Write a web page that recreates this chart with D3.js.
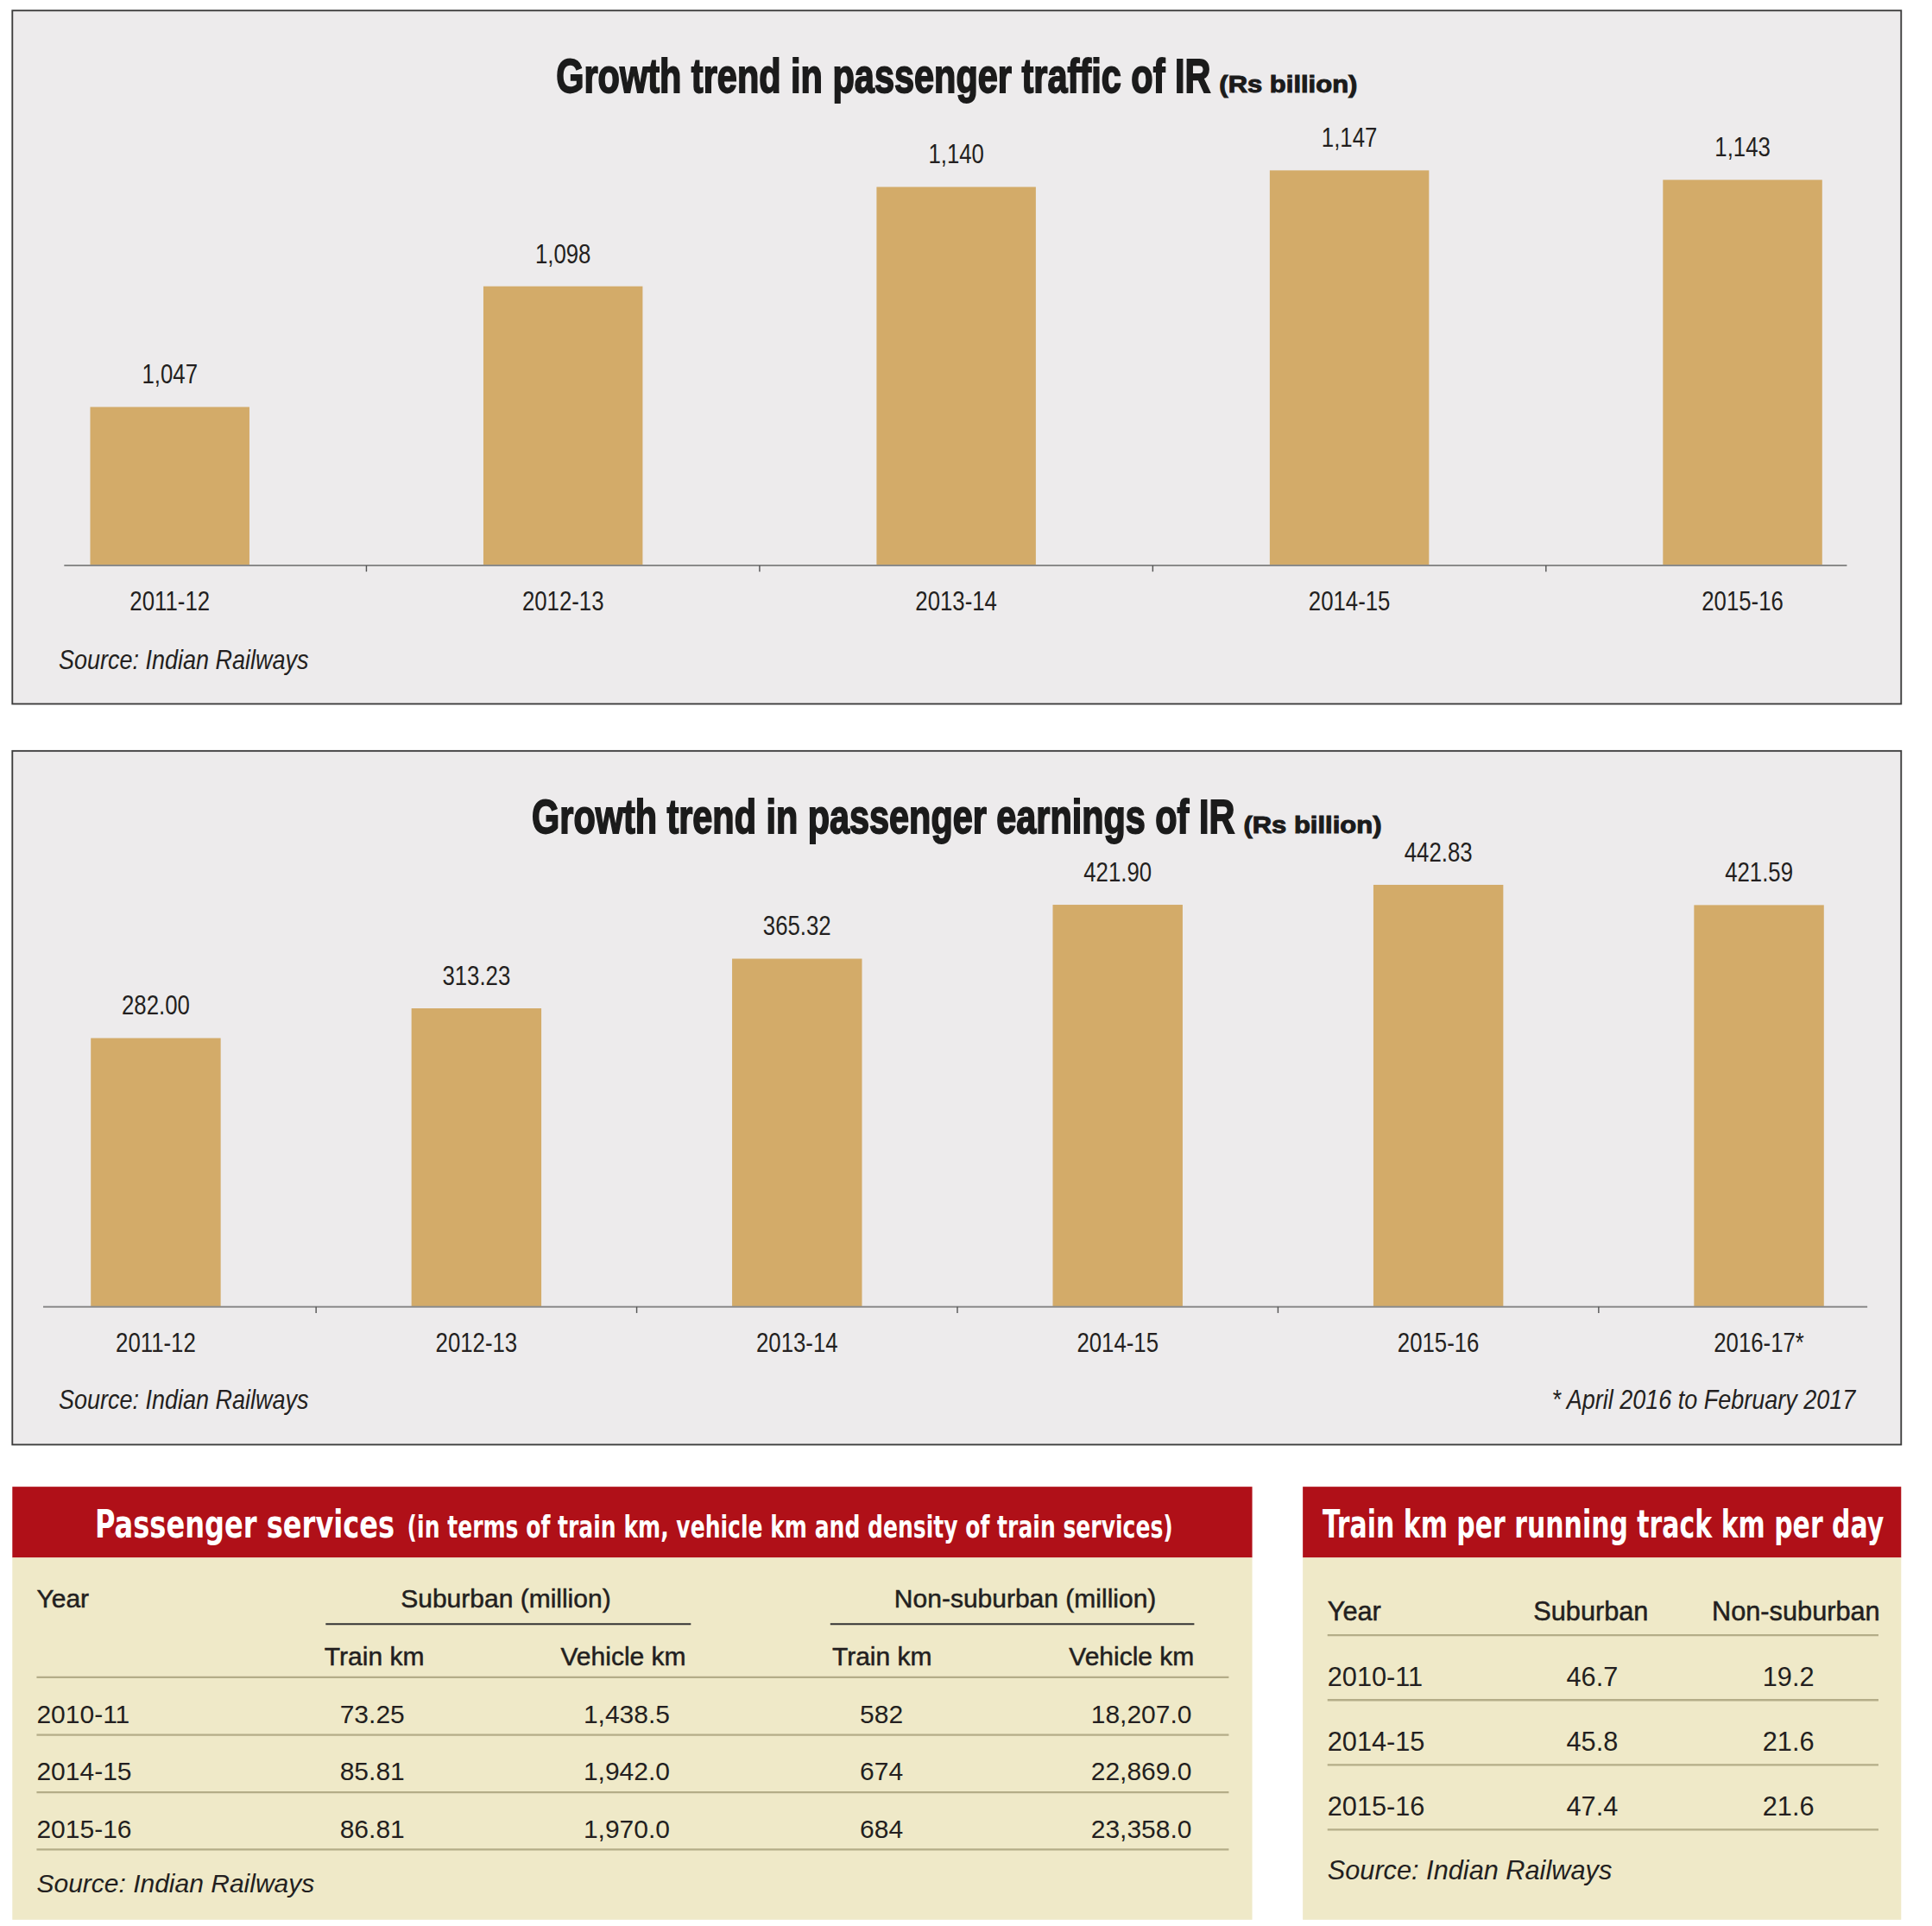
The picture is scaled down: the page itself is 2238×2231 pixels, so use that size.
<!DOCTYPE html>
<html>
<head>
<meta charset="utf-8">
<script src="https://cdn.jsdelivr.net/npm/d3@7"></script>
<style>
  html, body { margin: 0; padding: 0; background: #fff; }
  svg { display: block; }
</style>
</head>
<body>
<svg id="page"></svg>
<script>
// Growth trend in passenger traffic (Rs billion)
const trafficYears = ["2011-12", "2012-13", "2013-14", "2014-15", "2015-16"];
const trafficValues = [1047, 1098, 1140, 1147, 1143];

// Growth trend in passenger earnings (Rs billion)
const earningYears = ["2011-12", "2012-13", "2013-14", "2014-15", "2015-16", "2016-17*"];
const earningValues = [282.00, 313.23, 365.32, 421.90, 442.83, 421.59];

// Passenger services table
const serviceYears = ["2010-11", "2014-15", "2015-16"];
const subTrainKm = [73.25, 85.81, 86.81];
const subVehicleKm = [1438.5, 1942.0, 1970.0];
const nonSubTrainKm = [582, 674, 684];
const nonSubVehicleKm = [18207.0, 22869.0, 23358.0];

// Train km per running track km per day
const densityYears = ["2010-11", "2014-15", "2015-16"];
const subDensity = [46.7, 45.8, 47.4];
const nonSubDensity = [19.2, 21.6, 21.6];

const SANS = '"Liberation Sans", Arial, Helvetica, sans-serif';
const COND = '"DejaVu Sans Condensed", "DejaVu Sans", sans-serif';
const INK = '#231f20';

// page drawn in a 1566 x 1561 coordinate space, scaled to the window
const svg = d3.select('#page')
    .attr('width', 2238)
    .attr('height', 2231)
    .attr('viewBox', '0 0 1566 1561');

svg.append('rect').attr('width', 1566).attr('height', 1561).attr('fill', '#fff');

// squeeze text horizontally (factor k, or to an exact width) with a transform,
// so the glyphs look like a narrow cut and the box stays true
function squeeze(sel, k, width) {
    sel.each(function() {
        const t = d3.select(this);
        const w = this.getComputedTextLength();
        const s = width ? width / w : k;
        const x = +t.attr('x') || 0, y = +t.attr('y') || 0;
        t.attr('x', 0).attr('y', 0)
            .attr('transform', `translate(${x},${y}) scale(${s},1)`);
    });
    return sel;
}

class BarPanel {
    constructor(_config, _years, _values) {
        this.config = {
            top: _config.top,
            bottom: _config.bottom,
            title: _config.title,
            titleWidth: _config.titleWidth,
            titleBase: _config.titleBase,
            baseline: _config.baseline,
            yDomain: _config.yDomain,
            yTop: _config.yTop,
            bandRange: _config.bandRange,
            axisExtent: _config.axisExtent,
            labelBase: _config.labelBase,
            sourceBase: _config.sourceBase,
            format: _config.format,
            footnote: _config.footnote || null
        };
        this.years = _years;
        this.values = _values;

        this.initVis();
        this.renderVis();
    }

    initVis() {
        let vis = this;
        const c = vis.config;

        vis.g = svg.append('g');

        vis.g.append('rect')
            .attr('x', 10).attr('y', c.top)
            .attr('width', 1531).attr('height', c.bottom - c.top)
            .attr('fill', '#edebec')
            .attr('stroke', '#3d3d3d')
            .attr('stroke-width', 1.3);

        // title: heavy condensed main part plus smaller unit
        const gap = 7, unitWidth = 112;
        const start = 775.5 - (c.titleWidth + gap + unitWidth) / 2;
        vis.g.append('text')
            .attr('x', start).attr('y', c.titleBase)
            .attr('font-family', SANS)
            .attr('font-weight', 'bold')
            .attr('font-size', 39)
            .attr('fill', '#1b1b1b')
            .attr('stroke', '#1b1b1b')
            .attr('stroke-width', 1.3)
            .text(c.title)
            .call(squeeze, null, c.titleWidth);
        vis.g.append('text')
            .attr('x', start + c.titleWidth + gap).attr('y', c.titleBase)
            .attr('font-family', SANS)
            .attr('font-weight', 'bold')
            .attr('font-size', 19)
            .attr('fill', '#1b1b1b')
            .attr('stroke', '#1b1b1b')
            .attr('stroke-width', 0.7)
            .text('(Rs billion)')
            .call(squeeze, null, unitWidth);

        vis.xScale = d3.scaleBand()
            .domain(vis.years)
            .range(c.bandRange)
            .paddingInner(0.595)
            .paddingOuter(0.2975);

        vis.yScale = d3.scaleLinear()
            .domain(c.yDomain)
            .range([c.baseline, c.yTop]);

        vis.xAxis = d3.axisBottom(vis.xScale)
            .tickSize(0)
            .tickPadding(0);
    }

    renderVis() {
        let vis = this;
        const c = vis.config;
        const data = vis.years.map((y, i) => ({year: y, value: vis.values[i]}));

        vis.g.selectAll('.bar')
            .data(data)
            .join('rect')
            .attr('class', 'bar')
            .attr('x', d => vis.xScale(d.year))
            .attr('width', vis.xScale.bandwidth())
            .attr('y', d => vis.yScale(d.value))
            .attr('height', d => c.baseline - vis.yScale(d.value))
            .attr('fill', '#d3ab69');

        vis.g.selectAll('.value')
            .data(data)
            .join('text')
            .attr('class', 'value')
            .attr('x', d => vis.xScale(d.year) + vis.xScale.bandwidth() / 2)
            .attr('y', d => vis.yScale(d.value) - 19)
            .attr('text-anchor', 'middle')
            .attr('font-family', SANS)
            .attr('font-size', 22)
            .attr('fill', INK)
            .text(d => c.format(d.value))
            .call(squeeze, 0.82);

        // category labels
        const axisG = vis.g.append('g')
            .attr('transform', `translate(0,${c.baseline})`)
            .call(vis.xAxis);
        axisG.select('.domain').remove();
        axisG.selectAll('text')
            .attr('y', c.labelBase - c.baseline)
            .attr('dy', null)
            .attr('font-family', SANS)
            .attr('font-size', 22)
            .attr('fill', INK)
            .call(squeeze, 0.82);

        // baseline and separators between categories
        vis.g.append('line')
            .attr('x1', c.axisExtent[0]).attr('x2', c.axisExtent[1])
            .attr('y1', c.baseline).attr('y2', c.baseline)
            .attr('stroke', '#8a8a8a')
            .attr('stroke-width', 1.4);

        const step = vis.xScale.step();
        const bw = vis.xScale.bandwidth();
        vis.g.selectAll('.sep')
            .data(vis.years.slice(0, -1))
            .join('line')
            .attr('class', 'sep')
            .attr('x1', d => vis.xScale(d) + bw + (step - bw) / 2)
            .attr('x2', d => vis.xScale(d) + bw + (step - bw) / 2)
            .attr('y1', c.baseline).attr('y2', c.baseline + 5)
            .attr('stroke', '#555')
            .attr('stroke-width', 1);

        vis.g.append('text')
            .attr('x', 47.5).attr('y', c.sourceBase)
            .attr('font-family', SANS)
            .attr('font-style', 'italic')
            .attr('font-size', 22.5)
            .attr('fill', INK)
            .text('Source: Indian Railways')
            .call(squeeze, 0.84);

        if (c.footnote) {
            vis.g.append('text')
                .attr('x', 1504).attr('y', c.sourceBase)
                .attr('text-anchor', 'end')
                .attr('font-family', SANS)
                .attr('font-style', 'italic')
                .attr('font-size', 22.5)
                .attr('fill', INK)
                .text(c.footnote)
                .call(squeeze, 0.84);
        }
    }
}

new BarPanel({
    top: 8.5, bottom: 570.5,
    title: 'Growth trend in passenger traffic of IR',
    titleWidth: 530.5, titleBase: 74.6,
    baseline: 458.3, yDomain: [980, 1150], yTop: 132.3,
    bandRange: [-21.7, 1571.8], axisExtent: [52, 1497],
    labelBase: 495, sourceBase: 542,
    format: d3.format(',')
}, trafficYears, trafficValues);

new BarPanel({
    top: 608.6, bottom: 1170.9,
    title: 'Growth trend in passenger earnings of IR',
    titleWidth: 569.8, titleBase: 675,
    baseline: 1059.2, yDomain: [0, 450], yTop: 711.6,
    bandRange: [-3.7, 1555.7], axisExtent: [35, 1513.6],
    labelBase: 1096, sourceBase: 1141.6,
    format: d3.format('.2f'),
    footnote: '* April 2016 to February 2017'
}, earningYears, earningValues);

// ---------- tables ----------
const RED = '#b01018', CREAM = '#efe9c8', RULE = '#b4ad88';

function tableBox(x, w) {
    svg.append('rect').attr('x', x).attr('y', 1205).attr('width', w).attr('height', 57.5).attr('fill', RED);
    svg.append('rect').attr('x', x).attr('y', 1262.5).attr('width', w).attr('height', 293.5).attr('fill', CREAM);
}

function txt(x, y, s, opts = {}) {
    return svg.append('text')
        .attr('x', x).attr('y', y)
        .attr('text-anchor', opts.anchor || 'start')
        .attr('font-family', opts.family || SANS)
        .attr('font-size', opts.size || 21)
        .attr('font-style', opts.italic ? 'italic' : null)
        .attr('font-weight', opts.weight || null)
        .attr('fill', opts.fill || INK)
        .attr('stroke', opts.stroke || null)
        .attr('stroke-width', opts.stroke ? 0.35 : null)
        .text(s);
}

// Passenger services
tableBox(10, 1005);
txt(77, 1246.5, 'Passenger services', {family: COND, size: 31, weight: 'bold', fill: '#fff'})
    .call(squeeze, null, 243);
txt(330, 1246.5, '(in terms of train km, vehicle km and density of train services)', {family: COND, size: 25, weight: 'bold', fill: '#fff'})
    .call(squeeze, null, 621);

txt(29.7, 1302.8, 'Year', {stroke: INK});
txt(410, 1302.8, 'Suburban (million)', {anchor: 'middle', stroke: INK});
txt(831, 1302.8, 'Non-suburban (million)', {anchor: 'middle', stroke: INK});
[[264, 560], [673, 968]].forEach(([a, b]) => {
    svg.append('line').attr('x1', a).attr('x2', b).attr('y1', 1316.4).attr('y2', 1316.4)
        .attr('stroke', '#333').attr('stroke-width', 1.4);
});
txt(263, 1349.5, 'Train km', {stroke: INK});
txt(556, 1349.5, 'Vehicle km', {anchor: 'end', stroke: INK});
txt(674.5, 1349.5, 'Train km', {stroke: INK});
txt(968, 1349.5, 'Vehicle km', {anchor: 'end', stroke: INK});
svg.append('line').attr('x1', 29.7).attr('x2', 996).attr('y1', 1359.4).attr('y2', 1359.4)
    .attr('stroke', RULE).attr('stroke-width', 1.6);

const serviceRow = d3.scalePoint().domain(serviceYears).range([1396.5, 1489.4]);
const serviceCols = [
    {x: 328, values: subTrainKm, fmt: d3.format('.2f')},
    {x: 543, values: subVehicleKm, fmt: d3.format(',.1f')},
    {x: 732, values: nonSubTrainKm, fmt: d3.format('d')},
    {x: 966, values: nonSubVehicleKm, fmt: d3.format(',.1f')}
];
serviceYears.forEach((yr, i) => {
    const y = serviceRow(yr);
    txt(29.7, y, yr);
    serviceCols.forEach(col => txt(col.x, y, col.fmt(col.values[i]), {anchor: 'end'}));
    svg.append('line').attr('x1', 29.7).attr('x2', 996).attr('y1', y + 9.7).attr('y2', y + 9.7)
        .attr('stroke', RULE).attr('stroke-width', 1.6);
});
txt(29.7, 1534, 'Source: Indian Railways', {italic: true});

// Train km per running track km per day
tableBox(1056, 485);
txt(1072, 1246.5, 'Train km per running track km per day', {family: COND, size: 31, weight: 'bold', fill: '#fff'})
    .call(squeeze, null, 455);
txt(1076, 1313.7, 'Year', {size: 21.5, stroke: INK});
txt(1289.5, 1313.7, 'Suburban', {size: 21.5, anchor: 'middle', stroke: INK});
txt(1455.7, 1313.7, 'Non-suburban', {size: 21.5, anchor: 'middle', stroke: INK});
svg.append('line').attr('x1', 1076).attr('x2', 1522.6).attr('y1', 1325.4).attr('y2', 1325.4)
    .attr('stroke', RULE).attr('stroke-width', 1.6);

const densityRow = d3.scalePoint().domain(densityYears).range([1366.2, 1471.2]);
const densityCols = [
    {x: 1311.5, values: subDensity},
    {x: 1470.5, values: nonSubDensity}
];
densityYears.forEach((yr, i) => {
    const y = densityRow(yr);
    txt(1076, y, yr, {size: 21.5});
    densityCols.forEach(col => txt(col.x, y, d3.format('.1f')(col.values[i]), {size: 21.5, anchor: 'end'}));
    svg.append('line').attr('x1', 1076).attr('x2', 1522.6).attr('y1', y + 11.7).attr('y2', y + 11.7)
        .attr('stroke', RULE).attr('stroke-width', 1.6);
});
txt(1076, 1523, 'Source: Indian Railways', {size: 21.5, italic: true});
</script>
</body>
</html>
